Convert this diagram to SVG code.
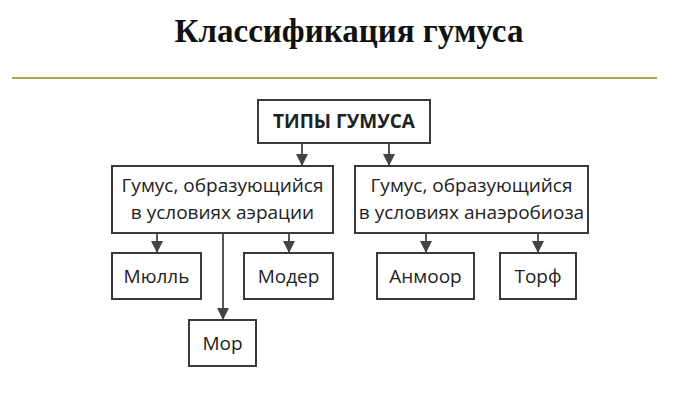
<svg xmlns="http://www.w3.org/2000/svg" width="700" height="419" viewBox="0 0 700 419">
<style>
.box{fill:#fff;stroke:#3a3a3a;stroke-width:2}
.t{font-family:"Open Sans","Noto Sans","DejaVu Sans",sans-serif;font-size:19px;fill:#222;text-anchor:middle}
.c{stroke:#555;stroke-width:2;fill:none;marker-end:url(#ah)}
</style>
<defs>
<marker id="ah" markerUnits="userSpaceOnUse" markerWidth="12" markerHeight="12" viewBox="0 0 12 12" refX="12" refY="6" orient="auto">
<path d="M0,0 L12,6 L0,12 Z" fill="#444"/>
</marker>
</defs>
<rect width="700" height="419" fill="#fff"/>
<text x="349" y="42" font-family="'Liberation Serif','Times New Roman',serif" font-weight="bold" font-size="33" text-anchor="middle" fill="#111">Классификация гумуса</text>
<line x1="12" y1="78" x2="657" y2="78" stroke="#a9a955" stroke-width="2"/>
<g id="connectors">
<line class="c" x1="302" y1="143" x2="302" y2="166"/>
<line class="c" x1="389" y1="143" x2="389" y2="166"/>
<line class="c" x1="157" y1="233" x2="157" y2="253"/>
<line class="c" x1="223" y1="233" x2="223" y2="320"/>
<line class="c" x1="289" y1="233" x2="289" y2="253"/>
<line class="c" x1="426" y1="233" x2="426" y2="253"/>
<line class="c" x1="538" y1="233" x2="538" y2="253"/>
</g>
<g id="types">
<rect class="box" x="258" y="100" width="172" height="43"/>
<text class="t" x="344" y="128" font-weight="bold" font-size="17.5">ТИПЫ ГУМУСА</text>
</g>
<g id="aeration">
<rect class="box" x="112" y="166" width="221" height="67"/>
<text class="t" x="222.5" y="192">Гумус, образующийся</text>
<text class="t" x="222.5" y="219">в условиях аэрации</text>
</g>
<g id="anaerobiosis">
<rect class="box" x="355" y="166" width="233" height="67"/>
<text class="t" x="471.5" y="192">Гумус, образующийся</text>
<text class="t" x="471.5" y="219">в условиях анаэробиоза</text>
</g>
<g id="mull">
<rect class="box" x="112" y="253" width="89" height="46"/>
<text class="t" x="156.5" y="283">Мюлль</text>
</g>
<g id="moder">
<rect class="box" x="244" y="253" width="89" height="46"/>
<text class="t" x="288.5" y="283">Модер</text>
</g>
<g id="anmoor">
<rect class="box" x="377" y="253" width="97" height="46"/>
<text class="t" x="425.5" y="283">Анмоор</text>
</g>
<g id="peat">
<rect class="box" x="500" y="253" width="76" height="46"/>
<text class="t" x="538" y="283">Торф</text>
</g>
<g id="mor">
<rect class="box" x="189" y="320" width="67" height="46"/>
<text class="t" x="222.5" y="350">Мор</text>
</g>
</svg>
